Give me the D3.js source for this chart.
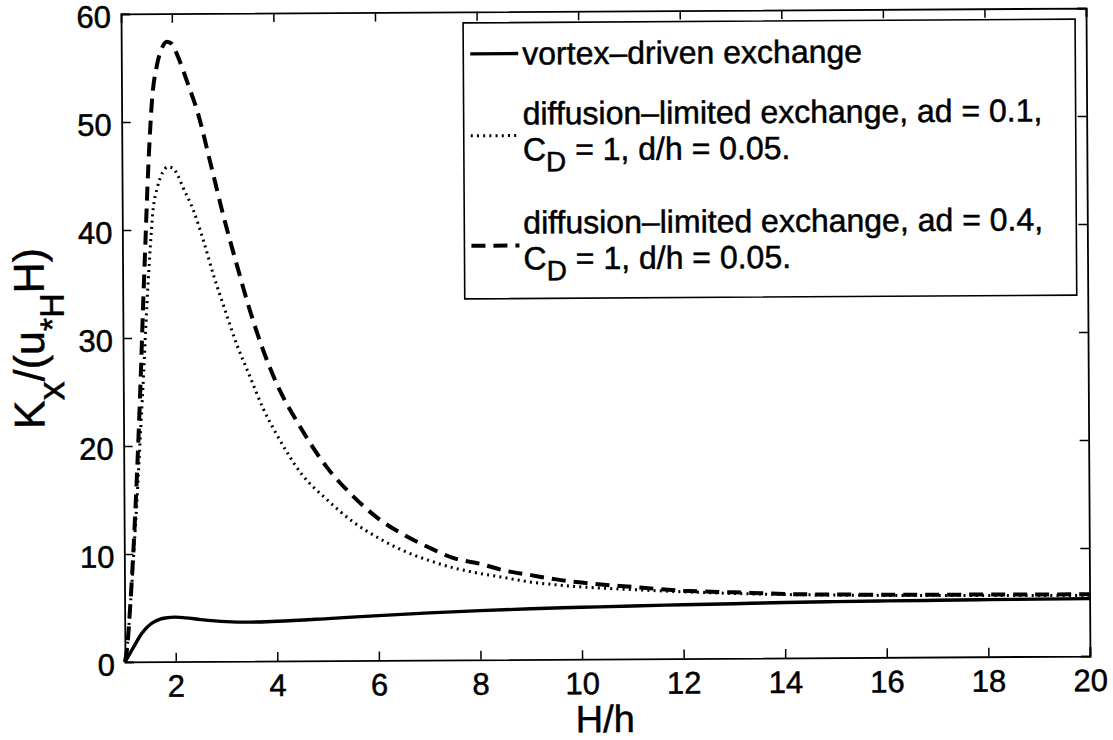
<!DOCTYPE html>
<html>
<head>
<meta charset="utf-8">
<script src="https://cdn.jsdelivr.net/npm/d3@7"></script>
<style>
  body { margin: 0; background: #fff; }
  svg { display: block; }
  text { font-family: "Liberation Sans", Arial, Helvetica, sans-serif; fill: #000; stroke: #000; stroke-width: 0.5px; }
</style>
</head>
<body>
<svg id="chart" width="1113" height="740"></svg>
<script>
// Axis ticks
const xTicks = [2, 4, 6, 8, 10, 12, 14, 16, 18, 20];
const yTicks = [0, 10, 20, 30, 40, 50, 60];

// Vortex-driven exchange (solid)
const vortexH = [1.0, 1.1, 1.2, 1.3, 1.4, 1.5, 1.6, 1.7, 1.8, 2.0, 2.2, 2.5, 3.0, 3.5, 4.0, 5.0, 6.0, 7.0, 8.0, 9.0, 10, 11, 12, 13, 14, 15, 16, 17, 18, 19, 20];
const vortexK = [0, 0.8, 1.6, 2.4, 3.0, 3.45, 3.75, 3.95, 4.05, 4.12, 4.05, 3.88, 3.68, 3.62, 3.68, 3.9, 4.15, 4.37, 4.55, 4.7, 4.8, 4.9, 4.98, 5.05, 5.13, 5.18, 5.22, 5.25, 5.28, 5.3, 5.32];

// Diffusion-limited exchange, ad = 0.1 (dotted)
const diff01H = [1.0, 1.05, 1.1, 1.15, 1.2, 1.25, 1.3, 1.35, 1.4, 1.45, 1.5, 1.55, 1.6, 1.7, 1.8, 1.9, 2.0, 2.1, 2.2, 2.4, 2.6, 2.8, 3.0, 3.25, 3.5, 3.75, 4.0, 4.5, 5.0, 5.5, 6.0, 6.5, 7.0, 7.5, 8.0, 8.5, 9.0, 9.5, 10, 11, 12, 13, 14, 15, 16, 17, 18, 19, 20];
const diff01K = [0, 1.5, 4.5, 7.5, 11, 14.5, 18.5, 22.5, 26.5, 31, 35, 38.5, 41.5, 44, 45.3, 45.8, 45.7, 45, 43.9, 41.8, 38.9, 35.6, 32.7, 29.2, 26.3, 23.4, 21.1, 17.3, 14.9, 12.87, 11.35, 10.13, 9.22, 8.5, 7.99, 7.58, 7.16, 6.9, 6.69, 6.41, 6.18, 6.0, 5.87, 5.79, 5.73, 5.69, 5.66, 5.64, 5.62];

// Diffusion-limited exchange, ad = 0.4 (dashed)
const diff04H = [1.0, 1.05, 1.1, 1.15, 1.2, 1.25, 1.3, 1.35, 1.4, 1.45, 1.5, 1.55, 1.6, 1.7, 1.8, 1.9, 2.0, 2.1, 2.3, 2.5, 2.75, 3.0, 3.25, 3.5, 3.75, 4.0, 4.5, 5.0, 5.5, 6.0, 6.5, 7.0, 7.5, 8.0, 8.5, 9.0, 9.5, 10, 11, 12, 13, 14, 15, 16, 17, 18, 19, 20];
const diff04K = [0, 1.5, 4.5, 8, 12, 16.5, 21.5, 27, 33, 38.5, 44, 48.5, 52, 55.2, 56.8, 57.4, 57.2, 56.2, 53.6, 50.8, 46.0, 41.1, 36.7, 32.5, 28.9, 25.9, 21.5, 17.9, 15.27, 13.15, 11.63, 10.42, 9.4, 8.89, 8.23, 7.81, 7.4, 7.09, 6.66, 6.28, 6.1, 5.92, 5.84, 5.8, 5.77, 5.75, 5.73, 5.72];

// Legend text
const legendLabels = [
  ["vortex\u2013driven exchange"],
  ["diffusion\u2013limited exchange, ad = 0.1,", "C", "D", " = 1, d/h = 0.05."],
  ["diffusion\u2013limited exchange, ad = 0.4,", "C", "D", " = 1, d/h = 0.05."]
];

const svg = d3.select("#chart");
const plotLeft = 123, plotRight = 1088, plotTop = 11, plotBottom = 659;

// the whole figure sits slightly tilted on the page
const g = svg.append("g").attr("transform", "rotate(-0.35, 607, 338)");

const x = d3.scaleLinear().domain([1, 20]).range([plotLeft, plotRight]);
const y = d3.scaleLinear().domain([0, 60]).range([plotBottom, plotTop]);

// Curves
const line = d3.line().x(d => x(d[0])).y(d => y(d[1])).curve(d3.curveMonotoneX);
const zip = (a, b) => a.map((v, i) => [v, b[i]]);

const series = [
  { pts: zip(vortexH, vortexK), width: 3.4, dash: null },
  { pts: zip(diff01H, diff01K), width: 3.0, dash: "2,4.2" },
  { pts: zip(diff04H, diff04K), width: 4.0, dash: "14,8" }
];

const plot = g.append("g");
series.forEach(s => {
  plot.append("path")
    .attr("d", line(s.pts))
    .attr("fill", "none")
    .attr("stroke", "#000")
    .attr("stroke-width", s.width)
    .attr("stroke-dasharray", s.dash);
});

// Axes: inward ticks on all four sides, boxed frame
const tickLen = 9;
const axB = g.append("g").attr("transform", `translate(0,${plotBottom})`)
  .call(d3.axisBottom(x).tickValues(xTicks).tickSize(-tickLen).tickPadding(13).tickFormat(d3.format("d")));
const axT = g.append("g").attr("transform", `translate(0,${plotTop})`)
  .call(d3.axisTop(x).tickValues(xTicks).tickSize(-tickLen).tickFormat(""));
const axL = g.append("g").attr("transform", `translate(${plotLeft},0)`)
  .call(d3.axisLeft(y).tickValues(yTicks).tickSize(-tickLen).tickPadding(10).tickFormat(d3.format("d")));
const axR = g.append("g").attr("transform", `translate(${plotRight},0)`)
  .call(d3.axisRight(y).tickValues(yTicks).tickSize(-tickLen).tickFormat(""));

[axB, axT, axL, axR].forEach(a => {
  a.select(".domain").attr("stroke", "#000").attr("stroke-width", 1.8);
  a.selectAll(".tick line").attr("stroke", "#000").attr("stroke-width", 1.5);
  a.selectAll("text").style("font-size", "31px").style("font-family", "\"Liberation Sans\", Arial, sans-serif").attr("fill", "#000");
});
axB.selectAll("text").attr("dy", "0.71em");
axL.selectAll("text").attr("dy", "0.42em");

// Axis titles
g.append("text")
  .attr("x", 603)
  .attr("y", 732)
  .attr("text-anchor", "middle")
  .style("font-size", "38px")
  .text("H/h");

const yl = g.append("text")
  .attr("transform", `translate(44, ${(plotTop + plotBottom) / 2}) rotate(-90)`)
  .attr("text-anchor", "middle")
  .style("font-size", "43px");
yl.append("tspan").text("K");
yl.append("tspan").attr("dy", 20).style("font-size", "38px").text("x");
yl.append("tspan").attr("dy", -20).text("/(u");
yl.append("tspan").attr("dy", 20).style("font-size", "34px").text("*H");
yl.append("tspan").attr("dy", -20).text("H)");

// Legend
const leg = g.append("g");
leg.append("rect")
  .attr("x", 465).attr("y", 22).attr("width", 612).attr("height", 276)
  .attr("fill", "#fff").attr("stroke", "#000").attr("stroke-width", 1.6);

const legRows = [
  { sampleY: 53, baselines: [64], style: series[0] },
  { sampleY: 135, baselines: [124, 160], style: series[1] },
  { sampleY: 245, baselines: [233, 269], style: series[2] }
];
legRows.forEach((r, i) => {
  leg.append("line")
    .attr("x1", 472).attr("x2", 520)
    .attr("y1", r.sampleY).attr("y2", r.sampleY)
    .attr("stroke", "#000")
    .attr("stroke-width", r.style.width)
    .attr("stroke-dasharray", r.style.dash);
  const lab = legendLabels[i];
  leg.append("text").attr("x", 524).attr("y", r.baselines[0])
    .style("font-size", "32px").text(lab[0]);
  if (lab.length > 1) {
    const t = leg.append("text").attr("x", 524).attr("y", r.baselines[1]).style("font-size", "32px");
    t.append("tspan").text(lab[1]);
    t.append("tspan").attr("dy", 11).style("font-size", "28px").text(lab[2]);
    t.append("tspan").attr("dy", -11).text(lab[3]);
  }
});
</script>
</body>
</html>
